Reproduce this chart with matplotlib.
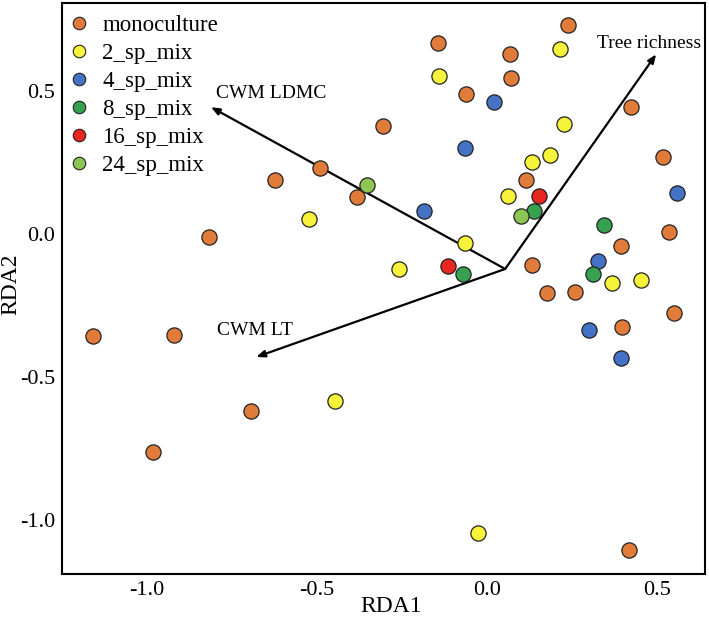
import matplotlib.pyplot as plt
from matplotlib.lines import Line2D

plt.rcParams['font.family'] = ['Liberation Serif', 'DejaVu Serif']

# site scores (RDA1, RDA2) by diversity level
mono_x = [0.238, -0.144, 0.068, 0.071, -0.062, 0.424, -0.306, 0.518, 0.115, -0.491,
          -0.624, -0.382, -0.818, 0.535, 0.394, 0.132, 0.176, 0.259, 0.550, 0.397,
          -1.159, -0.921, -0.694, -0.982, 0.418]
mono_y = [0.731, 0.668, 0.629, 0.545, 0.490, 0.444, 0.378, 0.269, 0.189, 0.231,
          0.189, 0.129, -0.010, 0.007, -0.042, -0.108, -0.206, -0.203, -0.276, -0.325,
          -0.357, -0.353, -0.619, -0.762, -1.105]
sp2_x = [0.215, -0.141, 0.226, 0.185, 0.132, 0.062, -0.524, -0.065, -0.259, 0.368,
         0.453, -0.447, -0.026]
sp2_y = [0.647, 0.552, 0.385, 0.276, 0.252, 0.133, 0.052, -0.031, -0.122, -0.171,
         -0.161, -0.584, -1.045]
sp4_x = [0.021, -0.065, 0.559, -0.185, 0.326, 0.300, 0.394]
sp4_y = [0.462, 0.301, 0.143, 0.080, -0.094, -0.336, -0.434]
sp8_x = [0.138, 0.344, -0.071, 0.312]
sp8_y = [0.080, 0.031, -0.140, -0.140]
sp16_x = [0.153, -0.115]
sp16_y = [0.133, -0.112]
sp24_x = [-0.353, 0.100]
sp24_y = [0.171, 0.063]

groups = ['monoculture', '2_sp_mix', '4_sp_mix', '8_sp_mix', '16_sp_mix', '24_sp_mix']
colors = ['#E07B3A', '#F7F23A', '#4472C4', '#36A24F', '#E8261F', '#8DC653']
xs = [mono_x, sp2_x, sp4_x, sp8_x, sp16_x, sp24_x]
ys = [mono_y, sp2_y, sp4_y, sp8_y, sp16_y, sp24_y]

# biplot arrows
arrow_origin = (0.053, -0.122)
arrow_names = ['Tree richness', 'CWM LDMC', 'CWM LT']
arrow_tips = [(0.497, 0.629), (-0.812, 0.444), (-0.679, -0.430)]
label_pos = [(0.476, 0.668), (-0.797, 0.493), (-0.794, -0.339)]
label_ha = ['center', 'left', 'left']

fig = plt.figure(figsize=(7.09, 6.18), dpi=100)
ax = fig.add_axes([0.0875, 0.0712, 0.907, 0.9238])

for gx, gy, c in zip(xs, ys, colors):
    ax.scatter(gx, gy, s=120, color=c, edgecolor='#222222', linewidth=0.9, zorder=3)

for name, tip, pos, ha in zip(arrow_names, arrow_tips, label_pos, label_ha):
    ax.annotate('', xy=tip, xytext=arrow_origin,
                arrowprops=dict(arrowstyle='-|>,head_length=0.5,head_width=0.2',
                                color='black', lw=1.6, shrinkA=0, shrinkB=0),
                zorder=2)
    ax.text(pos[0], pos[1], name, ha=ha, va='center', fontsize=14)

ax.set_xlim(-1.25, 0.641)
ax.set_ylim(-1.189, 0.808)
ax.set_xticks([-1.0, -0.5, 0.0, 0.5])
ax.set_yticks([-1.0, -0.5, 0.0, 0.5])
ax.set_xticklabels(['-1.0', '-0.5', '0.0', '0.5'])
ax.set_yticklabels(['-1.0', '-0.5', '0.0', '0.5'])
ax.tick_params(length=0, labelsize=16)
ax.tick_params(axis='x', pad=5)
ax.tick_params(axis='y', pad=5)
for sp in ax.spines.values():
    sp.set_linewidth(1.5)

# axis titles placed by hand, they sit right at the figure edge
fig.text(391 / 709, 0.002, 'RDA1', fontsize=17, ha='center', va='bottom')
fig.text(11 / 709, 1 - 284 / 618, 'RDA2', fontsize=17, ha='center', va='center',
         rotation=90)

handles = [Line2D([], [], marker='o', linestyle='', markersize=9, markerfacecolor=c,
                  markeredgecolor='#222222', markeredgewidth=0.8) for c in colors]
ax.legend(handles, groups, loc='upper left', bbox_to_anchor=(-0.005, 0.995),
          frameon=False, fontsize=16.5, labelspacing=0.3, handletextpad=0.5,
          handlelength=1.0, borderaxespad=0.2, borderpad=0.2)

plt.savefig('out.png', dpi=100)
